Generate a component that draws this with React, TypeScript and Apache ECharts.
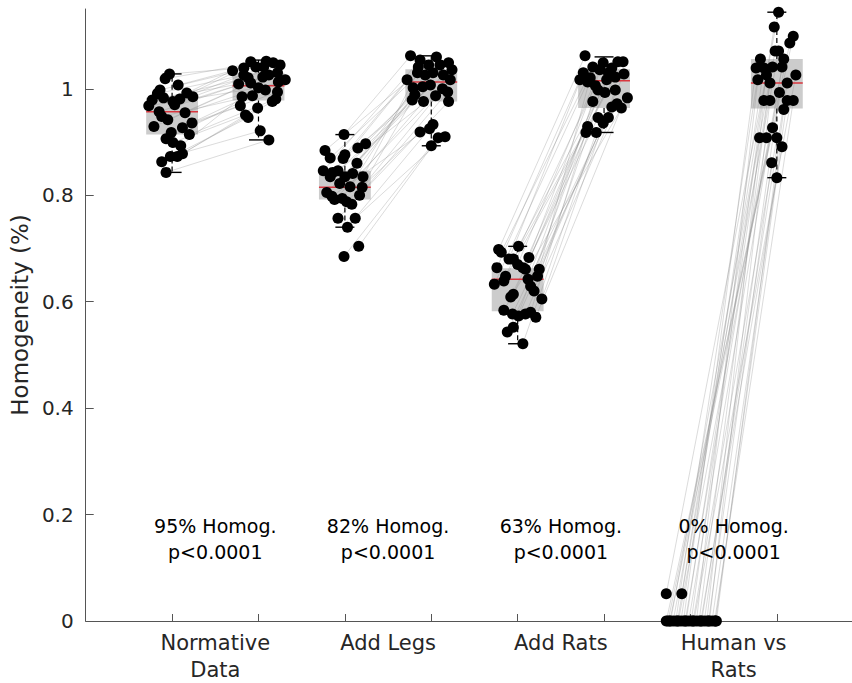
import React, { useEffect, useRef } from "react";
import * as echarts from "echarts";

// ---------- data ----------
const categories = ["Normative\nData", "Add Legs", "Add Rats", "Human vs\nRats"];
const categoryPositions = [1.5, 3.5, 5.5, 7.5];
const homogLabels = ["95% Homog.", "82% Homog.", "63% Homog.", "0% Homog."];
const pLabels = ["p<0.0001", "p<0.0001", "p<0.0001", "p<0.0001"];
const annotationY = 0.155;

const yTicks = [0, 0.2, 0.4, 0.6, 0.8, 1];
const yTickLabels = ["0", "0.2", "0.4", "0.6", "0.8", "1"];
const xTicks = [1, 2, 3, 4, 5, 6, 7, 8];

// box positions and [lower whisker, Q1, median, Q3, upper whisker]
const boxPositions = [1, 2, 3, 4, 5, 6, 7, 8];
const boxStats = [
  [0.843, 0.914, 0.957, 0.983, 1.028],
  [0.904, 0.978, 1.006, 1.03, 1.054],
  [0.74, 0.792, 0.815, 0.846, 0.914],
  [0.893, 0.976, 1.013, 1.037, 1.062],
  [0.521, 0.582, 0.642, 0.663, 0.704],
  [0.918, 0.964, 1.015, 1.037, 1.06],
  [0, 0, 0, 0, 0],
  [0.833, 0.963, 1.011, 1.056, 1.144],
];

// Normative Data
const g1BeforeVals = [1.028, 1.019, 1.007, 0.998, 0.992, 0.991, 0.985, 0.983, 0.981, 0.979, 0.976, 0.97, 0.968, 0.957, 0.955, 0.948, 0.942, 0.936, 0.929, 0.927, 0.918, 0.914, 0.906, 0.899, 0.893, 0.878, 0.873, 0.873, 0.863, 0.843];
const g1BeforeJit = [-0.03, -0.08, 0.07, -0.14, 0.17, -0.17, 0.24, -0.1, 0.09, -0.23, 0.01, 0.03, -0.27, -0.15, 0.15, -0.12, -0.05, 0.23, -0.21, 0.12, -0.01, 0.2, -0.07, 0.01, 0.1, 0.12, 0.06, -0.02, -0.12, -0.07];
const g1AfterVals = [1.041, 1.052, 1.034, 1.049, 1.051, 1.026, 1.045, 1.021, 1.041, 1.009, 1.039, 1.03, 1.002, 1.026, 1.017, 0.987, 1.022, 0.994, 1.011, 0.968, 1.013, 0.981, 0.998, 0.951, 0.985, 0.964, 0.976, 0.921, 0.946, 0.904];
const g1AfterJit = [-0.03, 0.09, -0.3, 0.17, -0.09, -0.17, 0.25, -0.12, 0.06, -0.23, -0.17, 0.22, 0.0, 0.12, 0.31, -0.07, 0.05, 0.22, -0.09, -0.21, 0.23, 0.2, 0.08, -0.15, -0.19, -0.01, 0.16, 0.02, -0.12, 0.12];

// Add Legs
const g2BeforeVals = [0.914, 0.897, 0.889, 0.884, 0.876, 0.87, 0.869, 0.86, 0.846, 0.846, 0.843, 0.841, 0.835, 0.835, 0.835, 0.822, 0.816, 0.815, 0.805, 0.8, 0.798, 0.794, 0.792, 0.788, 0.783, 0.757, 0.757, 0.74, 0.704, 0.685];
const g2BeforeJit = [-0.01, 0.24, 0.15, -0.23, 0.0, -0.17, -0.02, 0.14, -0.25, -0.08, -0.14, 0.09, 0.0, 0.21, -0.17, -0.06, 0.06, 0.2, -0.21, 0.17, -0.15, -0.03, -0.12, 0.02, 0.08, -0.08, 0.12, 0.03, 0.16, -0.01];
const g2AfterVals = [1.062, 1.03, 1.049, 1.06, 1.017, 1.045, 1.036, 1.004, 1.054, 1.026, 1.041, 0.989, 1.045, 1.03, 1.0, 1.026, 0.976, 1.017, 1.007, 0.994, 0.933, 1.002, 0.987, 0.919, 0.979, 0.976, 0.91, 0.925, 0.908, 0.893];
const g2AfterJit = [-0.24, 0.02, 0.2, 0.06, -0.28, -0.03, 0.24, -0.1, -0.13, 0.14, -0.15, -0.19, 0.1, -0.16, 0.13, -0.07, -0.09, 0.22, -0.01, 0.19, 0.02, -0.21, 0.05, -0.13, -0.22, 0.2, 0.16, -0.02, 0.08, 0.0];

// Add Rats
const g3BeforeVals = [0.704, 0.698, 0.693, 0.683, 0.68, 0.68, 0.67, 0.664, 0.664, 0.661, 0.661, 0.648, 0.648, 0.642, 0.639, 0.633, 0.629, 0.62, 0.614, 0.609, 0.605, 0.584, 0.58, 0.577, 0.577, 0.573, 0.571, 0.552, 0.543, 0.521];
const g3BeforeJit = [0.01, -0.22, -0.19, 0.13, -0.1, -0.05, 0.0, -0.24, 0.06, 0.25, 0.09, -0.14, 0.23, 0.12, -0.16, -0.27, 0.15, 0.19, -0.05, -0.08, 0.28, -0.16, 0.15, 0.09, -0.06, 0.01, 0.21, -0.05, -0.12, 0.06];
const g3AfterVals = [1.051, 1.062, 1.041, 1.049, 1.03, 1.051, 1.036, 1.017, 1.039, 1.021, 1.03, 1.006, 1.028, 0.998, 1.022, 1.013, 0.976, 1.017, 0.993, 0.946, 0.998, 0.983, 0.929, 0.972, 0.966, 0.936, 0.964, 0.918, 0.946, 0.918];
const g3AfterJit = [0.16, -0.22, -0.13, -0.01, -0.24, 0.22, -0.05, -0.28, 0.09, -0.16, 0.05, -0.1, 0.23, -0.07, 0.13, -0.19, -0.13, 0.03, 0.01, -0.07, 0.13, 0.27, -0.19, 0.15, 0.09, -0.01, 0.2, -0.21, 0.05, -0.09];

// Human vs Rats
const g4BeforeVals = [0.051, 0.051, 0, 0, 0, 0, 0, 0, 0, 0, 0, 0, 0, 0, 0, 0, 0, 0, 0, 0, 0, 0, 0, 0, 0, 0, 0, 0, 0, 0];
const g4BeforeJit = [-0.28, -0.1, -0.28, -0.26, -0.23, -0.2, -0.17, -0.14, -0.11, -0.08, -0.05, -0.02, 0.01, 0.04, 0.07, 0.1, 0.13, 0.16, 0.19, 0.22, 0.25, 0.28, 0.3, -0.24, -0.15, -0.06, 0.03, 0.12, 0.21, 0.29];
const g4AfterVals = [1.144, 1.116, 1.099, 1.086, 1.071, 1.071, 1.056, 1.056, 1.039, 1.039, 1.041, 1.041, 1.026, 1.026, 1.017, 1.011, 1.011, 0.993, 0.978, 0.978, 0.978, 0.978, 0.961, 0.927, 0.908, 0.908, 0.908, 0.891, 0.861, 0.833];
const g4AfterJit = [0.02, -0.03, 0.19, 0.15, -0.02, 0.02, -0.19, 0.08, -0.15, -0.24, -0.05, 0.06, -0.12, 0.22, -0.22, -0.08, 0.12, 0.03, -0.15, -0.08, 0.12, 0.19, 0.08, -0.05, -0.2, -0.12, 0.0, 0.06, -0.06, 0.0];

const groups = [
  { before: 1, after: 2, bv: g1BeforeVals, bj: g1BeforeJit, av: g1AfterVals, aj: g1AfterJit },
  { before: 3, after: 4, bv: g2BeforeVals, bj: g2BeforeJit, av: g2AfterVals, aj: g2AfterJit },
  { before: 5, after: 6, bv: g3BeforeVals, bj: g3BeforeJit, av: g3AfterVals, aj: g3AfterJit },
  { before: 7, after: 8, bv: g4BeforeVals, bj: g4BeforeJit, av: g4AfterVals, aj: g4AfterJit },
];

const FONT = "DejaVu Sans";
const TEXT = "#262626";
const AXIS = "#555555";

export default function App() {
  const ref = useRef<HTMLDivElement>(null);

  useEffect(() => {
    if (!ref.current) return;
    const chart = echarts.init(ref.current, null, { renderer: "svg" });

    const points: number[][] = [];
    const links: number[][] = [];
    groups.forEach((g) => {
      g.bv.forEach((v, i) => points.push([g.before + g.bj[i], v]));
      g.av.forEach((v, i) => points.push([g.after + g.aj[i], v]));
      const n = Math.min(g.bv.length, g.av.length);
      for (let i = 0; i < n; i++) {
        links.push([g.before + g.bj[i], g.bv[i], g.after + g.aj[i], g.av[i]]);
      }
    });
    const boxData = boxPositions.map((p, i) => [p, ...boxStats[i]]);
    const annData = categoryPositions.map((p) => [p, annotationY]);

    const boxHalf = 0.3;
    const capHalf = 0.11;

    const option: any = {
      animation: false,
      backgroundColor: "#ffffff",
      grid: { left: 85, right: 0, top: 9, bottom: 60, containLabel: false },
      xAxis: {
        type: "value",
        min: 0,
        max: 8.87,
        splitLine: { show: false },
        axisLine: { show: true, onZero: false, lineStyle: { color: AXIS, width: 1 } },
        axisTick: {
          show: true,
          inside: true,
          length: 7,
          customValues: xTicks,
          lineStyle: { color: AXIS, width: 1 },
        },
        axisLabel: {
          customValues: categoryPositions,
          formatter: (v: number) => {
            const i = categoryPositions.findIndex((c) => Math.abs(c - v) < 1e-6);
            return i >= 0 ? categories[i] : "";
          },
          fontFamily: FONT,
          fontSize: 21,
          lineHeight: 27,
          color: TEXT,
          margin: 8,
        },
      },
      yAxis: {
        type: "value",
        min: 0,
        max: 1.15,
        name: "Homogeneity (%)",
        nameLocation: "middle",
        nameGap: 49,
        nameTextStyle: { fontFamily: FONT, fontSize: 23, color: TEXT },
        splitLine: { show: false },
        axisLine: { show: true, onZero: false, lineStyle: { color: AXIS, width: 1 } },
        axisTick: {
          show: true,
          inside: true,
          length: 8,
          customValues: yTicks,
          lineStyle: { color: AXIS, width: 1 },
        },
        axisLabel: {
          customValues: yTicks,
          formatter: (v: number) => {
            const i = yTicks.findIndex((t) => Math.abs(t - v) < 1e-6);
            return i >= 0 ? yTickLabels[i] : "";
          },
          fontFamily: FONT,
          fontSize: 20,
          color: TEXT,
          margin: 12,
        },
      },
      series: [
        {
          type: "custom",
          name: "boxFill",
          silent: true,
          z: 1,
          data: boxData,
          renderItem: (params: any, api: any) => {
            const x = api.value(0);
            const q1 = api.coord([x, api.value(2)]);
            const q3 = api.coord([x, api.value(4)]);
            const hw = api.size([boxHalf, 0])[0];
            return {
              type: "rect",
              shape: { x: q1[0] - hw, y: q3[1], width: hw * 2, height: q1[1] - q3[1] },
              style: { fill: "#cccccc", stroke: "none" },
            };
          },
        },
        {
          type: "custom",
          name: "links",
          silent: true,
          z: 2,
          data: links,
          renderItem: (params: any, api: any) => {
            const p1 = api.coord([api.value(0), api.value(1)]);
            const p2 = api.coord([api.value(2), api.value(3)]);
            return {
              type: "line",
              shape: { x1: p1[0], y1: p1[1], x2: p2[0], y2: p2[1] },
              style: { stroke: "rgba(140,140,140,0.45)", lineWidth: 0.7 },
            };
          },
        },
        {
          type: "custom",
          name: "boxLines",
          silent: true,
          z: 3,
          data: boxData,
          renderItem: (params: any, api: any) => {
            const x = api.value(0);
            const lo = api.coord([x, api.value(1)]);
            const q1 = api.coord([x, api.value(2)]);
            const med = api.coord([x, api.value(3)]);
            const q3 = api.coord([x, api.value(4)]);
            const hi = api.coord([x, api.value(5)]);
            const hw = api.size([boxHalf, 0])[0];
            const cw = api.size([capHalf, 0])[0];
            const cx = lo[0];
            const dash = { stroke: "#000", lineWidth: 1.2, lineDash: [5, 3] };
            const solid = { stroke: "#000", lineWidth: 1.4 };
            return {
              type: "group",
              children: [
                { type: "line", shape: { x1: cx, y1: q3[1], x2: cx, y2: hi[1] }, style: dash },
                { type: "line", shape: { x1: cx, y1: q1[1], x2: cx, y2: lo[1] }, style: dash },
                { type: "line", shape: { x1: cx - cw, y1: hi[1], x2: cx + cw, y2: hi[1] }, style: solid },
                { type: "line", shape: { x1: cx - cw, y1: lo[1], x2: cx + cw, y2: lo[1] }, style: solid },
                {
                  type: "line",
                  shape: { x1: cx - hw, y1: med[1], x2: cx + hw, y2: med[1] },
                  style: { stroke: "#d9363e", lineWidth: 1.5 },
                },
              ],
            };
          },
        },
        {
          type: "scatter",
          name: "points",
          silent: true,
          z: 4,
          symbol: "circle",
          symbolSize: 11,
          itemStyle: { color: "#000000", opacity: 1 },
          data: points,
        },
        {
          type: "scatter",
          name: "annotations",
          silent: true,
          z: 5,
          symbolSize: 0,
          itemStyle: { opacity: 1, color: "#000000" },
          data: annData,
          label: {
            show: true,
            position: "inside",
            formatter: (p: any) => homogLabels[p.dataIndex] + "\n" + pLabels[p.dataIndex],
            fontFamily: FONT,
            fontSize: 19,
            lineHeight: 26,
            color: "#000000",
            opacity: 1,
            align: "center",
          },
        },
      ],
    };

    chart.setOption(option);
    return () => chart.dispose();
  }, []);

  return (
    <div
      ref={ref}
      style={{ position: "fixed", left: 0, top: 0, width: 852, height: 683, background: "#fff" }}
    />
  );
}
